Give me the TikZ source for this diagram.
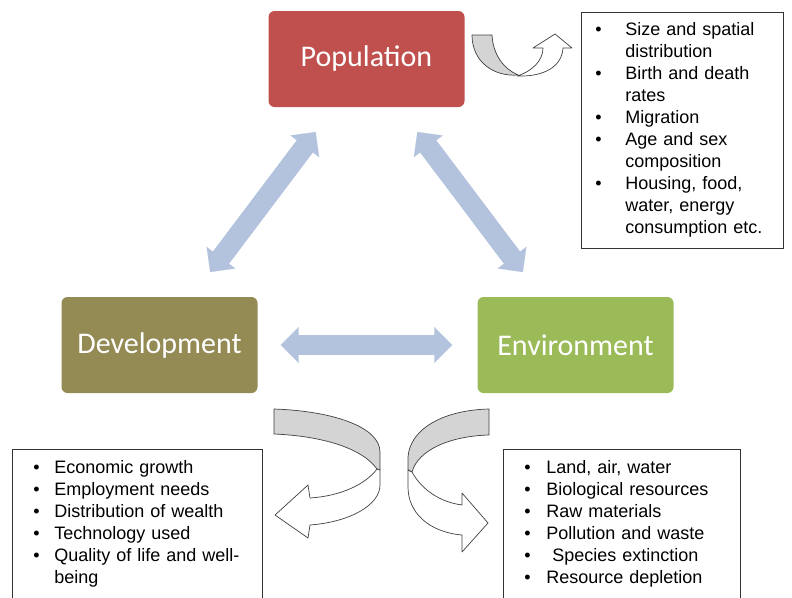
\documentclass[tikz,border=0pt]{standalone}
\usepackage{fontspec}
\setmainfont{Liberation Sans}
\newfontfamily\boxfont{Carlito}
\usetikzlibrary{arrows.meta, positioning}

\definecolor{popred}{HTML}{C0504D}
\definecolor{devolive}{HTML}{948A54}
\definecolor{envgreen}{HTML}{9BBB59}
\definecolor{linkblue}{HTML}{B3C3DD}
\definecolor{ribbongray}{HTML}{D4D4D4}

\tikzset{
	mainbox/.style={rounded corners=6pt, minimum width=196pt, minimum height=96pt,
		text=white, font=\boxfont\fontsize{30}{36}\selectfont},
	listbox/.style={draw=black!80, line width=0.8pt, anchor=north west, align=left,
		font=\fontsize{18}{22}\selectfont},
	linkarrow/.style 2 args={draw=linkblue, line width=20pt, shorten <=#1, shorten >=#2,
		arrows={Triangle[width=36pt,length=18pt,line width=0.1pt]-Triangle[width=36pt,length=18pt,line width=0.1pt]},
		postaction={draw=linkblue, line width=20pt, arrows=-, shorten <=#1+12pt, shorten >=#2+12pt}},
	ribbonback/.style={draw=black!75, fill=ribbongray, line width=0.7pt, line join=round},
	ribbonfront/.style={draw=black!75, fill=white, line width=0.7pt, line join=round}
}

\begin{document}
\begin{tikzpicture}[x=1pt, y=-1pt]
			\useasboundingbox (0,0) rectangle (792,597);
			\clip (0,0) rectangle (792,597);
			% 绘制主体
			\node[mainbox, fill=popred] (pop) at (366.5,59) {Population};
			\node[mainbox, fill=devolive] (dev) at (159.5,345) {Development};
			\node[mainbox, fill=envgreen] (env) at (575.5,345) {Environment};
			% 绘制双向箭头
			\draw[linkarrow={31pt}{31pt}] ([xshift=32pt]dev.north) -- ([xshift=66pt]pop.south west);
			\draw[linkarrow={31pt}{31pt}] ([xshift=-66pt]pop.south east) -- ([xshift=-34pt]env.north);
			\draw[linkarrow={23pt}{25pt}] (dev.east) -- (env.west);
			% 绘制列表
			\node[listbox, text width=174pt, inner xsep=14pt, inner ysep=8pt] (poplist) at (581,12) {%
				\begin{tabular}{@{}p{30pt}@{}l@{}}
					\textbullet & Size and spatial\\
					& distribution\\
					\textbullet & Birth and death\\
					& rates\\
					\textbullet & Migration\\
					\textbullet & Age and sex\\
					& composition\\
					\textbullet & Housing, food,\\
					& water, energy\\
					& consumption etc.
				\end{tabular}};
			\node[listbox, text width=208pt, inner xsep=21pt, inner ysep=9pt] (devlist) at (12,449) {%
				\begin{tabular}{@{}p{21pt}@{}l@{}}
					\textbullet & Economic growth\\
					\textbullet & Employment needs\\
					\textbullet & Distribution of wealth\\
					\textbullet & Technology used\\
					\textbullet & Quality of life and well-\\
					& being\\[14pt]
				\end{tabular}};
			\node[listbox, text width=195pt, inner xsep=21pt, inner ysep=9pt] (envlist) at (503,449) {%
				\begin{tabular}{@{}p{22pt}@{}l@{}}
					\textbullet & Land, air, water\\
					\textbullet & Biological resources\\
					\textbullet & Raw materials\\
					\textbullet & Pollution and waste\\
					\textbullet & \ Species extinction\\
					\textbullet & Resource depletion\\[14pt]
				\end{tabular}};
			% 绘制弯箭头
			\filldraw[ribbonback] (472,35) -- (492,35) .. controls (493,55) and (504,69) .. (518,75)
				.. controls (494,77) and (472,62) .. (472,35) -- cycle;
			\filldraw[ribbonfront] (517,76) .. controls (545,77) and (562,66) .. (563,48) -- (572,48)
				-- (555,34) -- (533,48) -- (543,48) .. controls (543,60) and (533,71) .. (517,76) -- cycle;
			\filldraw[ribbonback] (274,409) .. controls (333,411) and (380,427) .. (380,452) -- (380,470)
				-- (377,469) .. controls (362,448) and (322,436) .. (274,434) -- cycle;
			\filldraw[ribbonfront] (377,469) .. controls (365,485) and (340,496) .. (310,498) -- (308,485)
				-- (275,515) -- (308,538) -- (310,525) .. controls (350,522) and (380,505) .. (380,485)
				-- (380,470) -- cycle;
			\filldraw[ribbonback] (489,409) -- (489,435) .. controls (450,436) and (418,450) .. (412,472)
				-- (408,470) -- (408,457) .. controls (410,428) and (445,410) .. (489,409) -- cycle;
			\filldraw[ribbonfront] (412,472) .. controls (422,490) and (440,502) .. (462,505) -- (462,493)
				-- (488,523) -- (462,552) -- (462,535) .. controls (428,532) and (408,512) .. (408,487)
				-- (408,470) -- cycle;
		\end{tikzpicture}
\end{document}
